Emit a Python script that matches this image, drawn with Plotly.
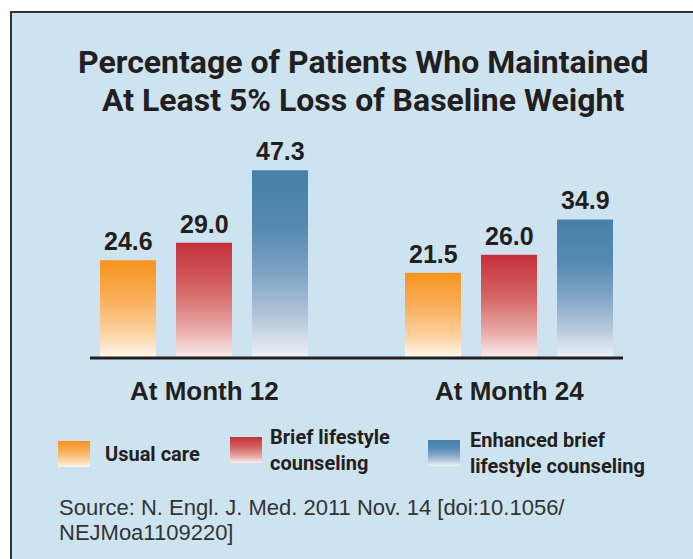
import plotly.graph_objects as go

# ---------------- data ----------------
groups = ["At Month 12", "At Month 24"]
series = ["Usual care", "Brief lifestyle counseling", "Enhanced brief lifestyle counseling"]
legend_labels = ["Usual care", "Brief lifestyle<br>counseling", "Enhanced brief<br>lifestyle counseling"]
usual_care = [24.6, 21.5]
brief_counseling = [29.0, 26.0]
enhanced_counseling = [47.3, 34.9]
values = [usual_care, brief_counseling, enhanced_counseling]
title_lines = ["Percentage of Patients Who Maintained", "At Least 5% Loss of Baseline Weight"]
source_lines = ["Source: N. Engl. J. Med. 2011 Nov. 14 [doi:10.1056/", "NEJMoa1109220]"]

# ---------------- style ----------------
W, H = 693, 559
BG = "#cde4f0"
TXT = "#231f20"
scales = [
    [[0, "#fff8f0"], [0.25, "#fdd3a3"], [0.6, "#fbae5c"], [1, "#f7941d"]],
    [[0, "#f9eded"], [0.25, "#e9aaa8"], [0.6, "#d46462"], [1, "#c5303b"]],
    [[0, "#eef2f8"], [0.2, "#b9cadc"], [0.45, "#7fa4c4"], [0.7, "#5589b2"], [1, "#4580a9"]],
]
NARROW = "Roboto, Liberation Sans, sans-serif"
SANS = "Liberation Sans, Arial, sans-serif"

base_px = 358          # pixel row of the baseline
unit_px = 3.97         # pixels per percentage point
group_px = [204, 509]  # group centres
step_px = 76
barw_px = 56

fig = go.Figure()

# bars (gradient filled polygons drawn on data axes)
for s, name in enumerate(series):
    for g, grp in enumerate(groups):
        v = values[s][g]
        xc = group_px[g] + (s - 1) * step_px
        x0, x1 = xc - barw_px / 2, xc + barw_px / 2
        fig.add_trace(go.Scatter(
            x=[x0, x0, x1, x1, x0], y=[0, v, v, 0, 0],
            mode="lines", line=dict(width=0), fill="toself",
            fillgradient=dict(type="vertical", colorscale=scales[s], start=0, stop=v),
            hoverinfo="skip", showlegend=False, xaxis="x", yaxis="y"))
        fig.add_annotation(x=xc, y=v, xref="x", yref="y", text=f"{v:.1f}",
                           showarrow=False, yanchor="bottom", yshift=3,
                           font=dict(family=SANS, size=25, color=TXT, weight="bold"))

# legend swatches (pixel axes)
sw_x = [58, 230, 428]
sw_y = [441, 437, 440]
txt_x = [103, 268, 468]
for s in range(3):
    x0, x1 = sw_x[s], sw_x[s] + 32
    yb, yt = H - (sw_y[s] + 26), H - sw_y[s]
    fig.add_trace(go.Scatter(
        x=[x0, x0, x1, x1, x0], y=[yb, yt, yt, yb, yb],
        mode="lines", line=dict(width=0), fill="toself",
        fillgradient=dict(type="vertical", colorscale=scales[s], start=yb, stop=yt),
        hoverinfo="skip", showlegend=False, xaxis="x2", yaxis="y2"))
    fig.add_annotation(x=txt_x[s], y=H - (sw_y[s] + 13), xref="x2", yref="y2",
                       text=legend_labels[s], showarrow=False, xanchor="left",
                       yanchor="middle", align="left",
                       font=dict(family=NARROW, size=20, color=TXT, weight="bold"))

# category labels
for g, grp in enumerate(groups):
    fig.add_annotation(x=group_px[g], y=H - 391, xref="x2", yref="y2", text=grp,
                       showarrow=False, yanchor="middle",
                       font=dict(family=SANS, size=26, color=TXT, weight="bold"))

# title
for i, line in enumerate(title_lines):
    fig.add_annotation(x=363, y=H - (62 + 38 * i), xref="x2", yref="y2", text=line,
                       showarrow=False, yanchor="middle",
                       font=dict(family=NARROW, size=32, color=TXT, weight="bold"))

# source
for i, line in enumerate(source_lines):
    fig.add_annotation(x=57, y=H - (507 + 25 * i), xref="x2", yref="y2", text=line,
                       showarrow=False, xanchor="left", yanchor="middle", align="left",
                       font=dict(family=SANS, size=22, color="#333333"))

# panel background + border
fig.add_shape(type="rect", xref="x2", yref="y2", x0=11, x1=W + 20, y0=-20, y1=H - 12,
              fillcolor=BG, line=dict(color="#333333", width=2), layer="below")
# baseline
fig.add_shape(type="line", xref="x", yref="y", x0=90, x1=623, y0=0, y1=0,
              line=dict(color=TXT, width=3))

fig.update_layout(
    width=W, height=H, margin=dict(l=0, r=0, t=0, b=0),
    paper_bgcolor="white", plot_bgcolor="rgba(0,0,0,0)", showlegend=False,
    xaxis=dict(range=[0, W], visible=False, fixedrange=True),
    yaxis=dict(range=[-(H - base_px) / unit_px, base_px / unit_px], visible=False, fixedrange=True),
    xaxis2=dict(range=[0, W], visible=False, overlaying="x", fixedrange=True),
    yaxis2=dict(range=[0, H], visible=False, overlaying="y", fixedrange=True),
)

fig.write_html("out.html", config={"displayModeBar": False},
               post_script="document.body.style.margin='0';")
